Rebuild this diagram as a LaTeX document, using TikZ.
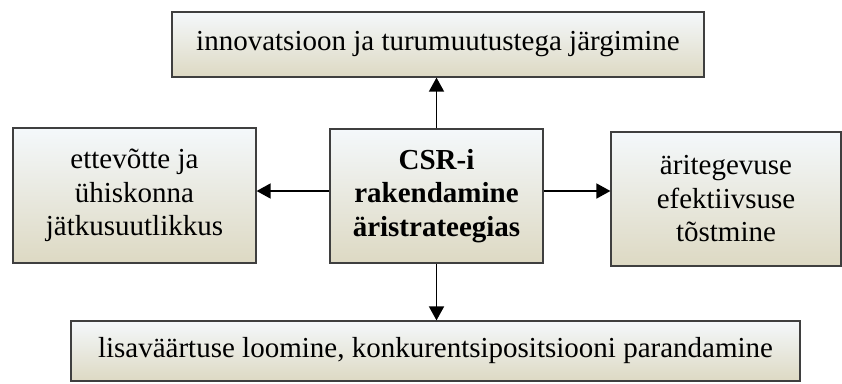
\documentclass[tikz,border=0pt]{standalone}
\usepackage{fontspec}
\setmainfont{Liberation Serif}
\usetikzlibrary{arrows.meta}
\definecolor{boxtop}{HTML}{F4F8FB}
\definecolor{boxbottom}{HTML}{DDD9C3}
\definecolor{boxline}{HTML}{3F3F3F}
\begin{document}
\begin{tikzpicture}[x=1pt,y=-1pt]
        % Define styles
        \tikzset{
            goalbox/.style={draw=boxline, line width=1.2pt, top color=boxtop, bottom color=boxbottom,
                align=center, inner sep=0pt, font=\fontsize{29}{33.5}\selectfont},
            link/.style={-{Triangle[length=14pt,width=15pt]}, line width=1.6pt}
        }
        \useasboundingbox (0,0) rectangle (842,383);
        % Central box
        \node[goalbox, minimum width=213pt, minimum height=134pt,
            font=\fontsize{29}{33.5}\selectfont\bfseries] (csr) at (436.5,196)
            {CSR-i\\rakendamine\\äristrateegias};
        % Surrounding boxes
        \node[goalbox, minimum width=532pt, minimum height=65pt] (innov) at (438,44.5)
            {innovatsioon ja turumuutustega järgimine};
        \node[goalbox, minimum width=243pt, minimum height=135pt] (jatk) at (134.5,195.5)
            {ettevõtte ja\\ühiskonna\\jätkusuutlikkus};
        \node[goalbox, minimum width=230pt, minimum height=134pt] (efekt) at (726,199)
            {äritegevuse\\efektiivsuse\\tõstmine};
        \node[goalbox, minimum width=729pt, minimum height=60pt] (lisa) at (435.5,351)
            {lisaväärtuse loomine, konkurentsipositsiooni parandamine};
        % Arrows from the central box
        \draw[link] (csr.north) -- (csr.north |- innov.south);
        \draw[link] (csr.south) -- (csr.south |- lisa.north);
        \draw[link] ([yshift=5pt]csr.west) -- ([yshift=5pt]csr.west -| jatk.east);
        \draw[link] ([yshift=5pt]csr.east) -- ([yshift=5pt]csr.east -| efekt.west);
    \end{tikzpicture}
\end{document}
